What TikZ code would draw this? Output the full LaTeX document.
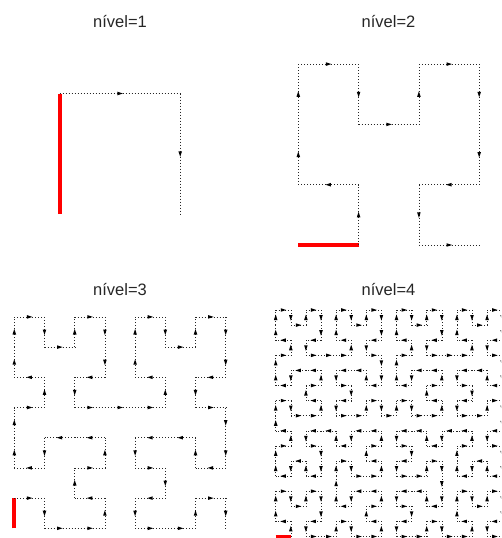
\documentclass[tikz,border=0pt]{standalone}
\usepackage{fontspec}
\setmainfont{Liberation Sans}
\newcount\HCx \newcount\HCy \newcount\HCt \newcount\HCs
\newcount\HCrx \newcount\HCry \newcount\HCq \newcount\HCtmp
% d2xy of the Hilbert curve: n = side, #2 = index
\def\hilbertxy#1#2{%
  \HCx=0 \HCy=0 \HCt=#2\relax \HCs=1
  \loop\ifnum\HCs<#1\relax
    \HCq=\HCt \divide\HCq by 4 \multiply\HCq by 4
    \HCq=\numexpr\HCt-\HCq\relax
    \ifcase\HCq \HCrx=0 \HCry=0 \or \HCrx=0 \HCry=1 \or \HCrx=1 \HCry=1 \else \HCrx=1 \HCry=0 \fi
    \ifnum\HCry=0
      \ifnum\HCrx=1
        \HCx=\numexpr\HCs-1-\HCx\relax
        \HCy=\numexpr\HCs-1-\HCy\relax
      \fi
      \HCtmp=\HCx \HCx=\HCy \HCy=\HCtmp
    \fi
    \advance\HCx by \numexpr\HCs*\HCrx\relax
    \advance\HCy by \numexpr\HCs*\HCry\relax
    \divide\HCt by 4
    \multiply\HCs by 2
  \repeat}
\tikzset{
  dotseg/.style={black!85,line width=0.55pt,dash pattern=on 0.7pt off 2.3pt},
  redseg/.style={red,line width=4pt},
  arrowfill/.style={fill=black},
  paneltitle/.style={font=\fontsize{16.5}{20}\selectfont,anchor=base,text=black!85}
}
% #1 level, #2 X0, #3 Y0, #4 spacing
\newcommand\hilbertpanel[4]{%
  \pgfmathtruncatemacro\HCn{2^#1}%
  \pgfmathtruncatemacro\HCmax{\HCn*\HCn-1}%
  \foreach \d in {1,...,\HCmax} {%
    \hilbertxy{\HCn}{\numexpr\d-1\relax}%
    \edef\xa{\the\HCx}\edef\ya{\the\HCy}%
    \hilbertxy{\HCn}{\d}%
    \edef\xb{\the\HCx}\edef\yb{\the\HCy}%
    \pgfmathsetmacro\pxa{#2+#4*\xa}%
    \pgfmathsetmacro\pya{#3-#4*\ya}%
    \pgfmathsetmacro\pxb{#2+#4*\xb}%
    \pgfmathsetmacro\pyb{#3-#4*\yb}%
    \ifnum\d=1
      \draw[redseg] (\pxa,\pya) -- (\pxb,\pyb);
    \else
      \draw[dotseg] (\pxa,\pya) -- (\pxb,\pyb);
      \pgfmathsetmacro\mx{(\pxa+\pxb)/2}%
      \pgfmathsetmacro\my{(\pya+\pyb)/2}%
      \pgfmathsetmacro\ux{\xb-\xa}%
      \pgfmathsetmacro\uy{\ya-\yb}%
      \fill[arrowfill] ({\mx+3*\ux},{\my+3*\uy}) -- ({\mx-2.5*\ux+1.8*\uy},{\my-2.5*\uy-1.8*\ux}) -- ({\mx-2.5*\ux-1.8*\uy},{\my-2.5*\uy+1.8*\ux}) -- cycle;
    \fi
  }%
}
\begin{document}
\begin{tikzpicture}[x=1pt,y=-1pt]
\useasboundingbox (0,0) rectangle (501,538);
\clip (0,0) rectangle (501,538);
\node[paneltitle] (t1) at (120,27.5) {nível=1};
\node[paneltitle] (t2) at (388.5,27.5) {nível=2};
\node[paneltitle] (t3) at (120,295.5) {nível=3};
\node[paneltitle] (t4) at (388.5,295.5) {nível=4};
\hilbertpanel{1}{59.7}{214}{120.5}
\hilbertpanel{2}{298.3}{245}{60.3}
\hilbertpanel{3}{14.3}{528.3}{30.2}
\hilbertpanel{4}{275.7}{536.5}{15.1}
\end{tikzpicture}
\end{document}
